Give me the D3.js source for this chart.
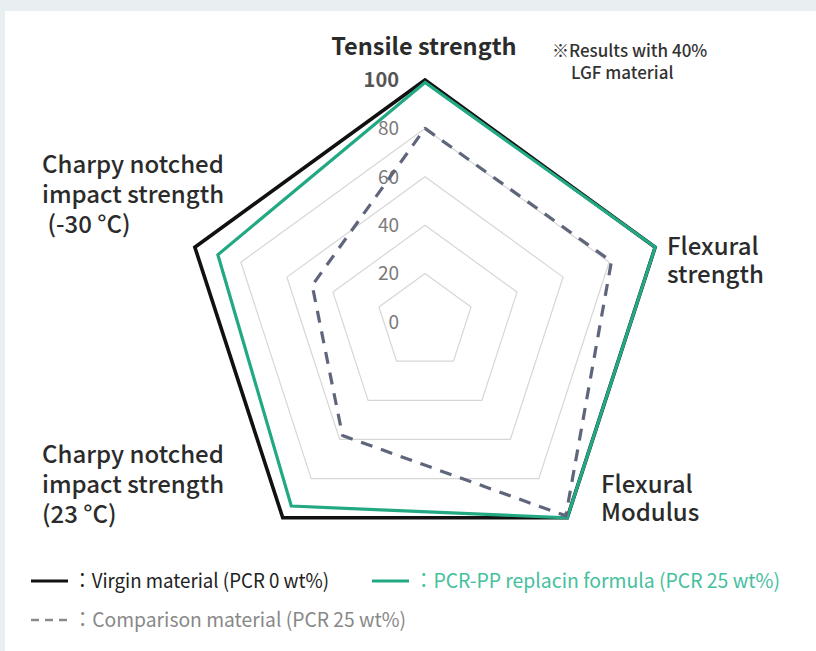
<!DOCTYPE html>
<html>
<head>
<meta charset="utf-8">
<script src="https://cdn.jsdelivr.net/npm/d3@7"></script>
<style>
  body { margin: 0; background: #e9eef1; }
  svg { display: block; }
  text { font-family: "Noto Sans CJK JP", "Noto Sans", sans-serif; }
</style>
</head>
<body>
<div class="graph"></div>
<script>
// data
var axisNames = ["Tensile strength", "Flexural strength", "Flexural Modulus",
                 "Charpy notched impact strength (23 °C)", "Charpy notched impact strength (-30 °C)"];
var virgin = [100, 100, 100, 100, 100];
var pcrPP = [99, 100, 100, 94, 90];
var comparison = [80, 81, 99, 58, 49];
var tickValues = [0, 20, 40, 60, 80, 100];
var ringValues = [20, 40, 60, 80, 100];
var legendLabels = ["：Virgin material (PCR 0 wt%)", "：PCR-PP replacin formula (PCR 25 wt%)", "：Comparison material (PCR 25 wt%)"];

var text_color = "#333333";
var green = "#22a983";
var slate = "#5f667c";

var W = 816, H = 651;
var cx = 425, cy = 322, R = 242;

var svg = d3.select("div.graph").append("svg")
    .attr("width", W)
    .attr("height", H);

svg.append("rect")
    .attr("x", 5).attr("y", 11)
    .attr("width", W - 5).attr("height", H - 11)
    .attr("fill", "#ffffff");

var g = svg.append("g")
    .attr("transform", "translate(" + cx + "," + cy + ")");

var r = d3.scaleLinear().domain([0, 100]).range([0, R]);
var angle = function (d, i) { return i * 2 * Math.PI / axisNames.length; };

var radar = d3.lineRadial()
    .angle(angle)
    .radius(function (d) { return r(d); })
    .curve(d3.curveLinearClosed);

// grid rings
g.selectAll("path.ring")
    .data(ringValues)
    .enter().append("path")
    .attr("class", "ring")
    .attr("d", function (v) { return radar(axisNames.map(function () { return v; })); })
    .attr("fill", "none")
    .attr("stroke", "#d6d6d6")
    .attr("stroke-width", 1.2);

// tick labels
g.selectAll("text.tick")
    .data(tickValues)
    .enter().append("text")
    .attr("class", "tick")
    .attr("x", -26)
    .attr("y", function (v) { return -r(v); })
    .attr("dy", "0.36em")
    .attr("text-anchor", "end")
    .attr("font-size", function (v) { return v === 100 ? 20 : 19; })
    .attr("font-weight", function (v) { return v === 100 ? 700 : 400; })
    .attr("fill", function (v) { return v === 100 ? "#555555" : "#7a7a7a"; })
    .text(function (v) { return v; });

// series
g.append("path")
    .attr("d", radar(virgin))
    .attr("fill", "none")
    .attr("stroke", "#111111")
    .attr("stroke-width", 3.6)
    .attr("stroke-linejoin", "miter");

g.append("path")
    .attr("d", radar(pcrPP))
    .attr("fill", "none")
    .attr("stroke", green)
    .attr("stroke-width", 3.2)
    .attr("stroke-linejoin", "miter");

g.append("path")
    .attr("d", radar(comparison))
    .attr("fill", "none")
    .attr("stroke", slate)
    .attr("stroke-width", 3.2)
    .attr("stroke-dasharray", "12,9")
    .attr("stroke-linejoin", "round");

// axis labels
var labelLayout = [
    { x: 424, y: 55, anchor: "middle", weight: 700, size: 23.5, lines: ["Tensile strength"] },
    { x: 667, y: 255, anchor: "start", weight: 500, size: 24, lines: ["Flexural", "strength"] },
    { x: 601, y: 493, anchor: "start", weight: 500, size: 24, lines: ["Flexural", "Modulus"] },
    { x: 42, y: 463, anchor: "start", weight: 500, size: 24, lines: ["Charpy notched", "impact strength", "(23 °C)"] },
    { x: 42, y: 173, anchor: "start", weight: 500, size: 24, lines: ["Charpy notched", "impact strength", "\u00a0(-30 °C)"] }
];

labelLayout.forEach(function (l) {
    var t = svg.append("text")
        .attr("x", l.x)
        .attr("y", l.y)
        .attr("text-anchor", l.anchor)
        .attr("font-size", l.size)
        .attr("font-weight", l.weight)
        .attr("fill", "#2b2b2b");
    l.lines.forEach(function (s, i) {
        t.append("tspan")
            .attr("x", l.x)
            .attr("dy", i === 0 ? 0 : (l.lines.length === 3 ? 30 : 28))
            .text(s);
    });
});

// note
var note = svg.append("text")
    .attr("font-size", 17)
    .attr("font-weight", 500)
    .attr("fill", text_color);
note.append("tspan").attr("x", 552).attr("y", 57).text("※Results with 40%");
note.append("tspan").attr("x", 571).attr("y", 79).text("LGF material");

// legend
var legendItems = [
    { x: 31, y: 581, color: "#111111", text: "#222222", dash: null, width: 3.2, len: 256 },
    { x: 372, y: 581, color: green, text: "#45c09d", dash: null, width: 3.2, len: 366 },
    { x: 31, y: 620, color: "#8a8a8a", text: "#888888", dash: "8,6", width: 2.6, len: 333 }
];

var legend = svg.selectAll("g.legend")
    .data(legendItems)
    .enter().append("g")
    .attr("class", "legend")
    .attr("transform", function (d) { return "translate(" + d.x + "," + d.y + ")"; });

legend.append("line")
    .attr("x1", 0).attr("x2", 37)
    .attr("y1", 0).attr("y2", 0)
    .attr("stroke", function (d) { return d.color; })
    .attr("stroke-width", function (d) { return d.width; })
    .attr("stroke-dasharray", function (d) { return d.dash; });

legend.append("text")
    .attr("x", 42)
    .attr("y", 0)
    .attr("dy", "0.35em")
    .attr("font-size", 20)
    .attr("fill", function (d) { return d.text; })
    .attr("textLength", function (d) { return d.len; })
    .attr("lengthAdjust", "spacingAndGlyphs")
    .text(function (d, i) { return legendLabels[i]; });
</script>
</body>
</html>
